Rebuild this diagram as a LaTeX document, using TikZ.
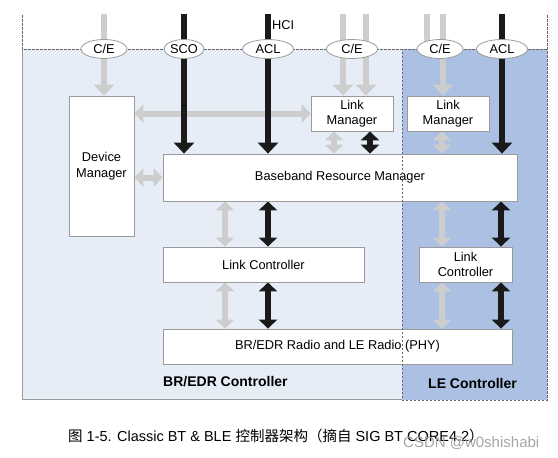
\documentclass[tikz,border=0pt]{standalone}
\usepackage{fontspec}
\setmainfont{Liberation Sans}
\newfontfamily\cjk{Noto Sans CJK SC}
\usetikzlibrary{shapes.geometric, arrows.meta, positioning, calc}
\definecolor{brblue}{HTML}{E6EDF7}
\definecolor{leblue}{HTML}{ABC0E2}
\definecolor{hcigray}{HTML}{CDCDCD}
\definecolor{framegray}{HTML}{9A9A9A}
\definecolor{pathblack}{HTML}{1A1A1A}
\pgfdeclarelayer{bg}
\pgfdeclarelayer{fg}
\pgfsetlayers{bg,main,fg}

\begin{document}
\begin{tikzpicture}[x=1pt, y=-1pt,
  block/.style={draw=framegray, fill=white, line width=0.8pt, inner sep=0pt, align=center, font=\fontsize{12.8}{15.5}\selectfont},
  port/.style={ellipse, draw=framegray, fill=white, line width=0.8pt, inner sep=0pt, minimum width=46pt, minimum height=19pt, font=\fontsize{12.8}{15}\selectfont},
  region/.style={anchor=west, inner sep=0pt, font=\bfseries\fontsize{14}{16}\selectfont},
  gline/.style={hcigray, line width=6pt},
  bline/.style={pathblack, line width=6pt},
  down/.style={-{Triangle[length=11pt, width=20pt]}},
  both/.style={{Triangle[length=9pt, width=18pt]}-{Triangle[length=9pt, width=18pt]}},
  hcidash/.style={draw=black!60, line width=0.8pt, dash pattern=on 2.5pt off 1.5pt}]
\useasboundingbox (0,0) rectangle (558,458);

% Controller areas
\begin{pgfonlayer}{bg}
\fill[brblue] (22,49) rectangle (402,399);
\fill[leblue] (402,49) rectangle (547,400);
\draw[framegray, line width=1pt] (22,49) -- (22,399) -- (402,399);
\draw[hcidash] (22,15) -- (22,49) -- (547,49);
\end{pgfonlayer}

% HCI ports
\node[anchor=west, inner sep=0pt, font=\fontsize{12.8}{15}\selectfont] (hci) at (272,25) {HCI};
\node[port] (ce1) at (104,49) {C/E};
\node[port, minimum width=40pt] (sco) at (184,49) {SCO};
\node[port, minimum width=51pt] (acl1) at (268,49) {ACL};
\node[port, minimum width=51pt] (ce2) at (352,49) {C/E};
\node[port] (ce3) at (440,49) {C/E};
\node[port, minimum width=51pt] (acl2) at (502,49) {ACL};

% Blocks
\node[block, minimum width=65pt, minimum height=140pt] (dm) at (101.5,166) {Device\\Manager};
\node[block, minimum width=82pt, minimum height=35pt] (lm1) at (352,113.5) {Link\\Manager};
\node[block, minimum width=82pt, minimum height=35pt] (lm2) at (448,113.5) {Link\\Manager};
\node[block, minimum width=354pt, minimum height=47pt] (brm) at (340,177.5) {Baseband Resource Manager};
\node[block, minimum width=201pt, minimum height=35pt] (lc1) at (263.5,264.5) {Link Controller};
\node[block, minimum width=93pt, minimum height=35pt] (lc2) at (465.5,264.5) {Link\\Controller};
\node[block, minimum width=349pt, minimum height=35pt] (phy) at (337.5,346.5) {BR/EDR Radio and LE Radio (PHY)};

% Area labels
\node[region] (brlabel) at (163,382) {BR/EDR Controller};
\node[region] (lelabel) at (428,383) {LE Controller};

% Caption
\node[anchor=west, inner sep=0pt, font=\fontsize{14.5}{16}\selectfont] (caption) at (68,436)
  {{\cjk 图} 1-5. Classic BT \& BLE {\cjk 控制器架构（摘自} SIG BT CORE4.2{\cjk ）}};
\node[anchor=west, inner sep=0pt, text=black!35, font=\fontsize{15}{16}\selectfont] (csdn) at (403,443) {CSDN @w0shishabi};

\begin{pgfonlayer}{bg}
% Control paths
\coordinate (hcitop) at (0,14);
\draw[gline, down] (ce1 |- hcitop) -- (ce1 |- dm.north);
\draw[gline, down] ($(ce2 |- hcitop)+(-9,0)$) -- ($(ce2 |- lm1.north)+(-9,0)$);
\draw[gline, down] ($(ce2 |- hcitop)+(14,0)$) -- ($(ce2 |- lm1.north)+(14,0)$);
\draw[gline] ($(ce3 |- hcitop)+(-13,0)$) -- ($(ce3)+(-13,0)$);
\draw[gline, down] ($(ce3 |- hcitop)+(3,0)$) -- ($(ce3 |- lm2.north)+(3,0)$);
\draw[gline, both] (dm.east |- lm1.west) -- (lm1.west);
\draw[gline, both] (dm.east |- brm.west) -- (brm.west);
\draw[gline, both] ($(lm1.south)+(-18,0)$) -- ($(lm1.south |- brm.north)+(-18,0)$);
\draw[gline, both] ($(lm2.south)+(-6,0)$) -- ($(lm2.south |- brm.north)+(-6,0)$);
\draw[gline, both] ($(lc1.north |- brm.south)+(-38.5,0)$) -- ($(lc1.north)+(-38.5,0)$);
\draw[gline, both] ($(lc1.south)+(-38.5,0)$) -- ($(lc1.south |- phy.north)+(-38.5,0)$);
\draw[gline, both] ($(lc2.north |- brm.south)+(-23.5,0)$) -- ($(lc2.north)+(-23.5,0)$);
\draw[gline, both] ($(lc2.south)+(-23.5,0)$) -- ($(lc2.south |- phy.north)+(-23.5,0)$);

% Data paths
\draw[bline, down] (sco |- hcitop) -- (sco |- brm.north);
\draw[bline, down] (acl1 |- hcitop) -- (acl1 |- brm.north);
\draw[bline, down] (acl2 |- hcitop) -- (acl2 |- brm.north);
\draw[bline, both] ($(lm1.south)+(18,0)$) -- ($(lm1.south |- brm.north)+(18,0)$);
\draw[bline, both] ($(lc1.north |- brm.south)+(4.5,0)$) -- ($(lc1.north)+(4.5,0)$);
\draw[bline, both] ($(lc1.south)+(4.5,0)$) -- ($(lc1.south |- phy.north)+(4.5,0)$);
\draw[bline, both] ($(lc2.north |- brm.south)+(35.5,0)$) -- ($(lc2.north)+(35.5,0)$);
\draw[bline, both] ($(lc2.south)+(35.5,0)$) -- ($(lc2.south |- phy.north)+(35.5,0)$);
\end{pgfonlayer}

% LE boundary
\begin{pgfonlayer}{fg}
\draw[hcidash] (547,15) -- (547,400) -- (402,400) -- (402,49);
\end{pgfonlayer}
\end{tikzpicture}
\end{document}
